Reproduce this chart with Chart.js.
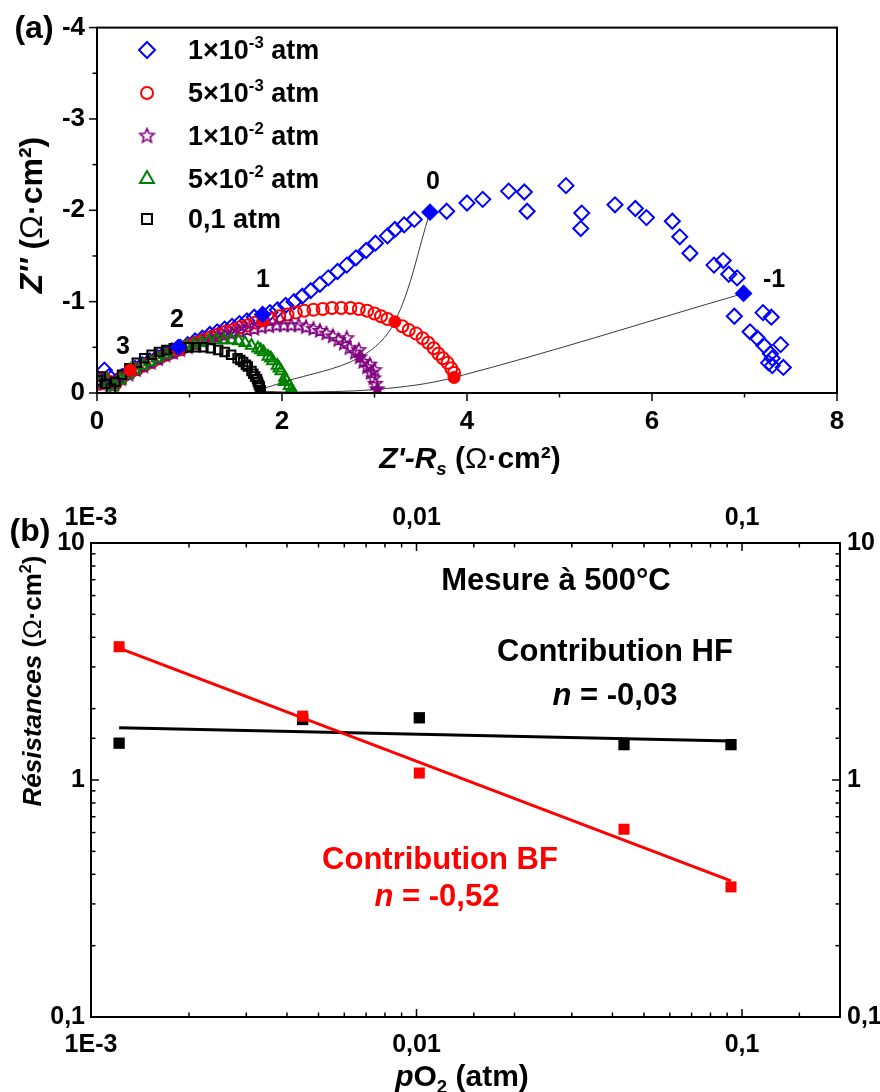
<!DOCTYPE html>
<html lang="fr">
<head>
  <meta charset="UTF-8" />
  <title>Impédance et résistances vs pO2</title>
  <script src="https://cdn.jsdelivr.net/npm/chart.js@4.4.1/dist/chart.umd.min.js"></script>
  <style>
    body { margin: 0; background: #fff; }
    #wrap { position: relative; width: 880px; height: 1092px; background: #fff;
            font-family: 'Liberation Sans', Arial, sans-serif; color: #000; }
    canvas { position: absolute; left: 0; }
    #nyquist { top: 0; }
    #resist { top: 470px; }
    .t { position: absolute; white-space: nowrap; font-weight: bold; transform: translate(-50%, -50%); line-height: 1; }
    .l { position: absolute; white-space: nowrap; font-weight: bold; transform: translateY(-50%); line-height: 1; font-size: 27px; }
    .rot { transform: translate(-50%, -50%) rotate(-90deg); }
    .red { color: #ff0000; }
    sup { font-size: 62%; vertical-align: 0.65em; line-height: 0; }
    sub { font-size: 62%; vertical-align: -0.35em; line-height: 0; }
    .n { font-weight: normal; }
  </style>
</head>
<body>
<div id="wrap">
  <canvas id="nyquist" width="880" height="470"></canvas>
  <canvas id="resist" width="880" height="622"></canvas>

  <!-- (a) labels -->
  <div class="t" style="left:34px; top:27px; font-size:32px;">(a)</div>
  <div class="l" style="left:188px; top:50px;">1×10<sup>-3</sup> atm</div>
  <div class="l" style="left:188px; top:93px;">5×10<sup>-3</sup> atm</div>
  <div class="l" style="left:188px; top:136px;">1×10<sup>-2</sup> atm</div>
  <div class="l" style="left:188px; top:179px;">5×10<sup>-2</sup> atm</div>
  <div class="l" style="left:188px; top:219px;">0,1 atm</div>
  <div class="t" style="left:433px; top:180px; font-size:25px;">0</div>
  <div class="t" style="left:774px; top:278px; font-size:25px;">-1</div>
  <div class="t" style="left:263px; top:278px; font-size:25px;">1</div>
  <div class="t" style="left:177px; top:318px; font-size:25px;">2</div>
  <div class="t" style="left:123px; top:345px; font-size:25px;">3</div>
  <div class="t rot" style="left:31px; top:215px; font-size:32px;"><i>Z''</i> (<span class="n">Ω</span>·cm²)</div>
  <div class="t" style="left:470px; top:458px; font-size:30px;"><i>Z'-R<sub>s</sub></i> (<span class="n">Ω</span>·cm²)</div>

  <!-- (b) labels -->
  <div class="t" style="left:30px; top:530px; font-size:32px;">(b)</div>
  <div class="t" style="left:556px; top:579px; font-size:31px;">Mesure à 500°C</div>
  <div class="t" style="left:615px; top:650px; font-size:31px;">Contribution HF</div>
  <div class="t" style="left:615px; top:694px; font-size:31px;"><i>n</i> = -0,03</div>
  <div class="t red" style="left:440px; top:858px; font-size:31px;">Contribution BF</div>
  <div class="t red" style="left:437px; top:895px; font-size:31px;"><i>n</i> = -0,52</div>
  <div class="t rot" style="left:32px; top:681px; font-size:26px;"><i>Résistances</i> (<span class="n">Ω</span>·cm<sup>2</sup>)</div>
  <div class="t" style="left:462px; top:1076px; font-size:30px;"><i>p</i>O<sub>2</sub> (atm)</div>
</div>

<script>
  // ---- (a) Nyquist data, [Z'-Rs, Z''] in ohm.cm2 ----
  const blueZ = [[0.04,-0.14],[0.08,-0.25],[0.13,-0.18],[0.2,-0.12],[0.27,-0.18],[0.34,-0.23],[0.41,-0.27],
    [0.49,-0.31],[0.57,-0.35],[0.65,-0.39],[0.73,-0.43],[0.81,-0.46],[0.9,-0.5],[0.98,-0.53],[1.06,-0.57],
    [1.14,-0.6],[1.22,-0.64],[1.3,-0.67],[1.38,-0.7],[1.46,-0.73],[1.54,-0.76],[1.62,-0.79],[1.7,-0.83],
    [1.87,-0.88],[1.95,-0.91],[2.04,-0.96],[2.13,-1.0],[2.22,-1.06],[2.31,-1.12],[2.41,-1.19],[2.5,-1.26],
    [2.6,-1.33],[2.7,-1.4],[2.8,-1.48],[2.91,-1.56],[3.01,-1.64],[3.14,-1.72],[3.22,-1.79],[3.32,-1.84],
    [3.43,-1.9],[3.78,-1.99],[4.0,-2.08],[4.17,-2.12],[4.45,-2.21],[4.62,-2.2],[4.65,-1.99],[5.07,-2.27],
    [5.24,-1.97],[5.23,-1.8],[5.6,-2.06],[5.82,-2.02],[5.94,-1.92],[6.22,-1.88],[6.3,-1.71],[6.41,-1.53],
    [6.67,-1.4],[6.77,-1.45],[6.83,-1.3],[6.92,-1.26],[6.89,-0.84],[7.2,-0.88],[7.29,-0.83],[7.06,-0.67],
    [7.14,-0.6],[7.21,-0.52],[7.39,-0.53],[7.28,-0.43],[7.3,-0.38],[7.26,-0.33],[7.3,-0.3],[7.42,-0.28]];
  const redZ = [[0.03,-0.1],[0.08,-0.16],[0.14,-0.12],[0.2,-0.1],[0.27,-0.17],[0.35,-0.22],[0.43,-0.26],
    [0.51,-0.3],[0.59,-0.34],[0.67,-0.38],[0.75,-0.42],[0.83,-0.45],[0.91,-0.48],[0.99,-0.52],[1.07,-0.55],
    [1.15,-0.58],[1.23,-0.61],[1.31,-0.64],[1.39,-0.67],[1.47,-0.69],[1.55,-0.72],[1.63,-0.74],[1.71,-0.77],
    [1.88,-0.81],[1.97,-0.84],[2.06,-0.86],[2.15,-0.88],[2.24,-0.9],[2.34,-0.91],[2.44,-0.92],[2.54,-0.93],
    [2.64,-0.93],[2.74,-0.93],[2.83,-0.92],[2.92,-0.9],[3.0,-0.87],[3.07,-0.84],[3.14,-0.81],[3.3,-0.73],
    [3.37,-0.69],[3.45,-0.65],[3.52,-0.6],[3.58,-0.55],[3.64,-0.49],[3.69,-0.43],[3.74,-0.38],[3.79,-0.33],
    [3.83,-0.27],[3.86,-0.22]];
  const purpleZ = [[0.03,-0.1],[0.1,-0.15],[0.18,-0.08],[0.26,-0.15],[0.34,-0.2],[0.42,-0.25],[0.5,-0.29],
    [0.58,-0.33],[0.66,-0.37],[0.74,-0.41],[0.82,-0.44],[0.9,-0.47],[0.98,-0.5],[1.06,-0.53],[1.14,-0.56],
    [1.22,-0.58],[1.3,-0.61],[1.38,-0.63],[1.46,-0.65],[1.54,-0.67],[1.62,-0.69],[1.7,-0.7],[1.78,-0.72],
    [1.86,-0.73],[1.94,-0.74],[2.02,-0.74],[2.1,-0.74],[2.18,-0.74],[2.26,-0.72],[2.34,-0.7],[2.41,-0.68],
    [2.48,-0.65],[2.55,-0.62],[2.61,-0.58],[2.67,-0.54],[2.73,-0.49],[2.79,-0.44],[2.88,-0.34],[2.92,-0.28],
    [2.96,-0.22],[2.99,-0.16],[3.01,-0.1],[3.0,-0.25],[2.95,-0.31],[2.83,-0.47],[2.7,-0.6]];
  const greenZ = [[0.03,-0.12],[0.1,-0.14],[0.17,-0.07],[0.25,-0.14],[0.33,-0.2],[0.41,-0.25],[0.49,-0.3],
    [0.57,-0.34],[0.65,-0.38],[0.73,-0.42],[0.81,-0.45],[0.89,-0.48],[0.97,-0.51],[1.05,-0.53],[1.13,-0.55],
    [1.21,-0.57],[1.29,-0.58],[1.37,-0.58],[1.45,-0.58],[1.53,-0.57],[1.6,-0.55],[1.67,-0.52],[1.74,-0.49],
    [1.8,-0.45],[1.85,-0.4],[1.9,-0.35],[1.95,-0.3],[1.99,-0.24],[2.05,-0.13],[2.08,-0.08],[2.1,-0.04],[2.11,-0.01],
    [1.77,-0.47],[1.88,-0.38],[1.97,-0.27],[2.03,-0.17]];
  const blackZ = [[0.01,-0.14],[0.04,-0.18],[0.09,-0.1],[0.15,-0.05],[0.2,-0.12],[0.27,-0.2],[0.35,-0.27],
    [0.43,-0.33],[0.51,-0.38],[0.59,-0.42],[0.67,-0.45],[0.75,-0.47],[0.83,-0.49],[0.91,-0.5],[0.99,-0.5],
    [1.07,-0.5],[1.15,-0.5],[1.23,-0.49],[1.31,-0.47],[1.38,-0.45],[1.45,-0.42],[1.52,-0.38],[1.58,-0.34],
    [1.63,-0.29],[1.67,-0.24],[1.71,-0.18],[1.74,-0.12],[1.76,-0.07],[1.55,-0.36],[1.61,-0.31],[1.69,-0.21],
    [1.73,-0.15],[1.75,-0.09]];
  // filled points = frequency decades
  const blueDec = [[0.88,-0.5],[1.79,-0.86],[3.6,-1.98],[6.99,-1.09]];
  const redDec = [[0.36,-0.25],[0.88,-0.47],[1.79,-0.79],[3.22,-0.78],[3.86,-0.17]];
  const purpleDec = [[2.84,-0.39],[3.03,-0.04]];
  const greenDec = [[0.36,-0.26],[2.02,-0.12],[2.12,-0.01]];
  const blackDec = [[1.77,-0.03]];
  const iso0 = [[3.6,-1.98],[3.22,-0.78],[2.84,-0.39],[2.02,-0.12],[1.77,-0.04]];
  const isoM1 = [[6.99,-1.09],[3.86,-0.17],[3.03,-0.04],[2.12,-0.01],[1.78,-0.02]];
  const zTicksX = [0, 2, 4, 6, 8];

  // ---- (b) resistances vs pO2 ----
  const pO2 = [0.00122, 0.00447, 0.0102, 0.0434, 0.0925];
  const rHF = [1.43, 1.80, 1.83, 1.41, 1.41];
  const rBF = [3.65, 1.86, 1.07, 0.62, 0.354];
  const fitX = [0.00122, 0.0925];
  const fitHF = [1.66, 1.46];
  const fitBF = [3.6, 0.375];
  const pTicks = [0.001, 0.01, 0.1];
  const pTickLabels = ['1E-3', '0,01', '0,1'];
  const rTicks = [0.1, 1, 10];
  const rTickLabels = ['0,1', '1', '10'];

  const BLUE = '#0000ff', RED = '#ff0000', PURPLE = '#800080', GREEN = '#008000', BLACK = '#000000';
  Chart.defaults.font.family = "'Liberation Sans', Arial, sans-serif";
  Chart.defaults.color = '#000';

  const pts = arr => arr.map(p => ({ x: p[0], y: p[1] }));
  const zip = (xs, ys) => xs.map((x, i) => ({ x: x, y: ys[i] }));

  function starImage(color, r, filled) {
    const c = document.createElement('canvas');
    const s = Math.ceil(r * 2 + 4);
    c.width = s; c.height = s;
    const g = c.getContext('2d');
    g.beginPath();
    for (let i = 0; i < 10; i++) {
      const rr = i % 2 ? r * 0.45 : r;
      const a = -Math.PI / 2 + i * Math.PI / 5;
      g.lineTo(s / 2 + rr * Math.cos(a), s / 2 + rr * Math.sin(a));
    }
    g.closePath();
    if (filled) { g.fillStyle = color; g.fill(); }
    g.lineWidth = 1.6; g.strokeStyle = color; g.stroke();
    return c;
  }
  const starOpen = starImage(PURPLE, 7, false);
  const starFull = starImage(PURPLE, 7, true);
  const starLegend = starImage(PURPLE, 7.5, false);

  const isMajorLog = v => Math.abs(Math.log10(v) - Math.round(Math.log10(v))) < 1e-6;
  const logLabel = (ticks, labels) => v => {
    const i = ticks.findIndex(t => Math.abs(t - v) / t < 1e-6);
    return i < 0 ? '' : labels[i];
  };

  // frame + tick marks, drawn from each scale's own ticks
  function frame(axes) {
    return {
      id: 'frame',
      afterDatasetsDraw(chart) {
        const ctx = chart.ctx, a = chart.chartArea;
        ctx.save();
        ctx.strokeStyle = '#000';
        ctx.lineWidth = 2;
        ctx.strokeRect(a.left, a.top, a.right - a.left, a.bottom - a.top);
        ctx.lineWidth = 1.5;
        axes.forEach(ax => {
          const s = chart.scales[ax.id];
          s.ticks.forEach(t => {
            const p = s.getPixelForValue(t.value);
            const len = ax.major(t.value) ? 8 : 4.5;
            ctx.beginPath();
            if (s.isHorizontal()) {
              const y0 = ax.edge === 'top' ? a.top : a.bottom;
              ctx.moveTo(p, y0); ctx.lineTo(p, y0 + ax.dir * len);
            } else {
              const x0 = ax.edge === 'right' ? a.right : a.left;
              ctx.moveTo(x0, p); ctx.lineTo(x0 + ax.dir * len, p);
            }
            ctx.stroke();
          });
        });
        ctx.restore();
      }
    };
  }

  // legend symbols of panel (a)
  const legendRows = [50, 93, 136, 179, 219];
  const legendMarks = {
    id: 'legendMarks',
    afterDraw(chart) {
      const ctx = chart.ctx;
      const styles = [
        { pointStyle: 'rectRot', radius: 8, color: BLUE },
        { pointStyle: 'circle', radius: 6, color: RED },
        { pointStyle: starLegend, radius: 7, color: PURPLE },
        { pointStyle: 'triangle', radius: 8, color: GREEN },
        { pointStyle: 'rect', radius: 7, color: BLACK }
      ];
      styles.forEach((st, i) => {
        ctx.save();
        ctx.strokeStyle = st.color;
        ctx.fillStyle = 'rgba(0,0,0,0)';
        ctx.lineWidth = 2;
        Chart.helpers.drawPoint(ctx, { pointStyle: st.pointStyle, radius: st.radius, rotation: 0, borderWidth: 2 }, 147, legendRows[i]);
        ctx.restore();
      });
    }
  };

  const open = (label, data, style, color, r, order) => ({
    label: label, data: pts(data), pointStyle: style, pointRadius: r, pointBorderWidth: 2,
    borderColor: color, pointBorderColor: color, backgroundColor: 'rgba(0,0,0,0)',
    pointBackgroundColor: 'rgba(0,0,0,0)', showLine: false, order: order
  });
  const full = (data, style, color, r) => ({
    data: pts(data), pointStyle: style, pointRadius: r, pointBorderWidth: 2,
    borderColor: color, pointBorderColor: color, backgroundColor: color, pointBackgroundColor: color,
    showLine: false, order: 0
  });
  const iso = data => ({
    data: pts(data), showLine: true, tension: 0.35, borderColor: '#3a3a3a', borderWidth: 1,
    pointRadius: 0, order: 0.5
  });

  new Chart(document.getElementById('nyquist'), {
    type: 'scatter',
    data: {
      datasets: [
        open('1×10-3 atm', blueZ, 'rectRot', BLUE, 7.5, 5),
        open('5×10-3 atm', redZ, 'circle', RED, 6, 4),
        open('1×10-2 atm', purpleZ, starOpen, PURPLE, 6, 3),
        open('5×10-2 atm', greenZ, 'triangle', GREEN, 6.5, 2),
        open('0,1 atm', blackZ, 'rect', BLACK, 6, 1),
        iso(iso0), iso(isoM1),
        full(blueDec, 'rectRot', BLUE, 7.5),
        full(redDec, 'circle', RED, 5.5),
        full(purpleDec, starFull, PURPLE, 6),
        full(greenDec, 'triangle', GREEN, 6),
        full(blackDec, 'rect', BLACK, 6)
      ]
    },
    options: {
      responsive: false, animation: false, devicePixelRatio: 1,
      layout: { padding: { top: 23, right: 43, left: 0, bottom: 0 } },
      plugins: { legend: { display: false }, tooltip: { enabled: false } },
      scales: {
        x: {
          type: 'linear', position: 'bottom', min: 0, max: 8,
          grid: { display: false, drawTicks: false }, border: { display: false },
          ticks: { stepSize: 1, autoSkip: false, padding: 13, maxRotation: 0,
                   font: { size: 26, weight: 'bold' },
                   callback: v => zTicksX.includes(v) ? String(v) : '' },
          afterFit: s => { s.height = 77; }
        },
        y: {
          type: 'linear', position: 'left', min: -4, max: 0, reverse: true,
          grid: { display: false, drawTicks: false }, border: { display: false },
          ticks: { stepSize: 0.5, autoSkip: false, padding: 12,
                   font: { size: 26, weight: 'bold' },
                   callback: v => Number.isInteger(v) ? String(v) : '' },
          afterFit: s => { s.width = 97; }
        }
      }
    },
    plugins: [
      frame([
        { id: 'x', edge: 'bottom', dir: 1, major: v => v % 2 === 0 },
        { id: 'y', edge: 'left', dir: -1, major: v => Number.isInteger(v) }
      ]),
      legendMarks
    ]
  });

  const logAxis = (pos, ticks, labels, pad, fit) => ({
    type: 'logarithmic', position: pos,
    min: ticks === pTicks ? 0.001 : 0.1, max: ticks === pTicks ? 0.2 : 10,
    grid: { display: false, drawTicks: false }, border: { display: false },
    ticks: { autoSkip: false, padding: pad, maxRotation: 0,
             font: { size: 25, weight: 'bold' }, callback: logLabel(ticks, labels) },
    afterFit: fit
  });

  new Chart(document.getElementById('resist'), {
    type: 'scatter',
    data: {
      datasets: [
        { label: 'BF', data: zip(pO2, rBF), pointStyle: 'rect', pointRadius: 7.8,
          backgroundColor: RED, borderColor: RED, pointBorderWidth: 0, showLine: false,
          xAxisID: 'x', yAxisID: 'y', order: 0 },
        { label: 'fit BF', data: zip(fitX, fitBF), showLine: true, borderColor: RED, borderWidth: 3,
          pointRadius: 0, xAxisID: 'x', yAxisID: 'y', order: 1 },
        { label: 'HF', data: zip(pO2, rHF), pointStyle: 'rect', pointRadius: 8,
          backgroundColor: BLACK, borderColor: BLACK, pointBorderWidth: 0, showLine: false,
          xAxisID: 'x', yAxisID: 'y', order: 2 },
        { label: 'fit HF', data: zip(fitX, fitHF), showLine: true, borderColor: BLACK, borderWidth: 3,
          pointRadius: 0, xAxisID: 'x', yAxisID: 'y', order: 3 }
      ]
    },
    options: {
      responsive: false, animation: false, devicePixelRatio: 1,
      layout: { padding: 0 },
      plugins: { legend: { display: false }, tooltip: { enabled: false } },
      scales: {
        x: logAxis('bottom', pTicks, pTickLabels, 13, s => { s.height = 75; }),
        x2: logAxis('top', pTicks, pTickLabels, 10, s => { s.height = 73; }),
        y: logAxis('left', rTicks, rTickLabels, 6, s => { s.width = 91; }),
        y2: logAxis('right', rTicks, rTickLabels, 7, s => { s.width = 40; })
      }
    },
    plugins: [
      frame([
        { id: 'x', edge: 'bottom', dir: -1, major: isMajorLog },
        { id: 'x2', edge: 'top', dir: 1, major: isMajorLog },
        { id: 'y', edge: 'left', dir: 1, major: isMajorLog },
        { id: 'y2', edge: 'right', dir: -1, major: isMajorLog }
      ])
    ]
  });
</script>
</body>
</html>
